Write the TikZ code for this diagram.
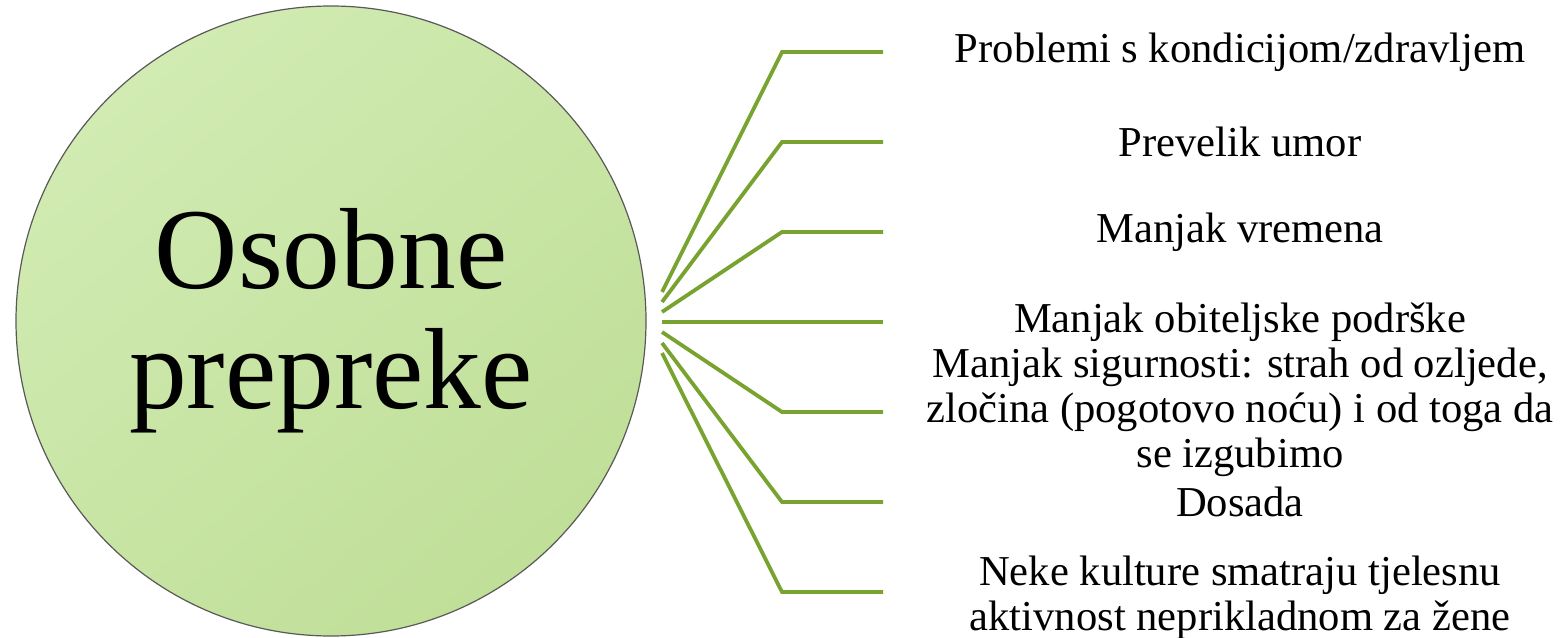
\documentclass[tikz,border=0pt]{standalone}
\usepackage{fontspec}
\setmainfont{Liberation Serif}
\usepackage{tikz}

\definecolor{hublight}{RGB}{209,235,178}
\definecolor{hubdark}{RGB}{192,223,152}
\definecolor{branchgreen}{RGB}{120,163,48}

\begin{document}
\begin{tikzpicture}[x=0.5pt,y=-0.5pt]

        \useasboundingbox (0,0) rectangle (1563,637);

        \def\elbowx{782}
        \def\endx{883}
        \def\textx{1240}

        \tikzset{
            branch/.style={draw=branchgreen, line width=1.9pt},
            item/.style={align=center, inner sep=0pt,
                font=\fontsize{21.3pt}{22.5pt}\selectfont},
        }

        % central circle
        \node[circle, draw=black!65, line width=0.6pt, minimum size=315pt,
              top color=hublight, bottom color=hubdark, shading angle=40,
              align=center, inner sep=0pt,
              font=\fontsize{57.7pt}{60pt}\selectfont]
              (hub) at (331,321) {Osobne\\prepreke};

        % branches
        \foreach \i/\sy/\ey in {1/292/52, 2/302/142, 3/312/232, 4/322/322,
                                5/332/412, 6/343/502, 7/353/592} {
            \coordinate (s\i) at (662,\sy);
            \coordinate (k\i) at (\elbowx,\ey);
            \coordinate (e\i) at (\endx,\ey);
            \draw[branch] (s\i) -- (k\i) -- (e\i);
        }

        \node[item] (t1) at (\textx,52) {Problemi s kondicijom/zdravljem};
        \node[item] (t2) at (\textx,142) {Prevelik umor};
        \node[item] (t3) at (\textx,232) {Manjak vremena};
        \node[item] (t4) at (\textx,322) {Manjak obiteljske podrške};
        \node[item] (t5) at (\textx,412) {Manjak sigurnosti: strah od ozljede,\\zločina (pogotovo noću) i od toga da\\se izgubimo};
        \node[item] (t6) at (\textx,502) {Dosada};
        \node[item] (t7) at (\textx,598) {Neke kulture smatraju tjelesnu\\aktivnost neprikladnom za žene};

\end{tikzpicture}
\end{document}
